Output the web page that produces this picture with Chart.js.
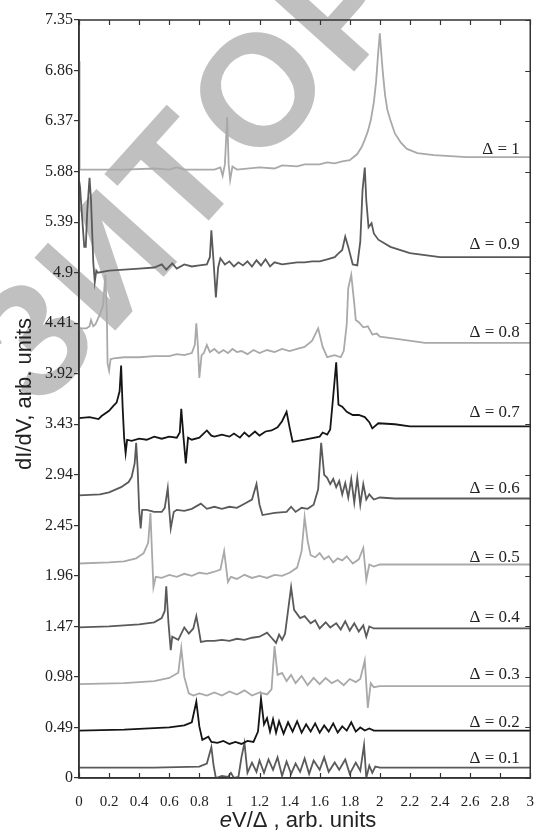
<!DOCTYPE html>
<html>
<head>
<meta charset="utf-8">
<script src="https://cdn.jsdelivr.net/npm/chart.js@4.4.1/dist/chart.umd.min.js"></script>
<style>
  body { margin: 0; background: #fff; }
  canvas { display: block; }
</style>
</head>
<body>
<canvas id="didvChart" width="541" height="835"></canvas>
<script>
// tick values and labels
const xTicks = [0, 0.2, 0.4, 0.6, 0.8, 1, 1.2, 1.4, 1.6, 1.8, 2, 2.2, 2.4, 2.6, 2.8, 3];
const xTickLabels = ["0", "0.2", "0.4", "0.6", "0.8", "1", "1.2", "1.4", "1.6", "1.8", "2", "2.2", "2.4", "2.6", "2.8", "3"];
const yTicks = [0, 0.49, 0.98, 1.47, 1.96, 2.45, 2.94, 3.43, 3.92, 4.41, 4.9, 5.39, 5.88, 6.37, 6.86, 7.35];
const yTickLabels = ["0", "0.49", "0.98", "1.47", "1.96", "2.45", "2.94", "3.43", "3.92", "4.41", "4.9", "5.39", "5.88", "6.37", "6.86", "7.35"];

// curve labels (top to bottom) and where they sit
const deltaLabels = ["Δ = 1", "Δ = 0.9", "Δ = 0.8", "Δ = 0.7", "Δ = 0.6", "Δ = 0.5", "Δ = 0.4", "Δ = 0.3", "Δ = 0.2", "Δ = 0.1"];
const labelY = [6.09, 5.17, 4.32, 3.54, 2.81, 2.14, 1.56, 1.00, 0.54, 0.19];

// curves, [eV/Δ, dI/dV]
const delta10 = [[0,6.95],[0.004,5.9],[0.1,5.9],[0.3,5.9],[0.5,5.91],[0.6,5.9],[0.65,5.92],[0.7,5.9],[0.9,5.9],[0.94,5.92],[0.955,5.84],[0.97,5.95],[0.985,6.41],[0.995,5.95],[1.005,5.8],[1.02,5.93],[1.05,5.9],[1.2,5.92],[1.3,5.91],[1.35,5.94],[1.45,5.93],[1.5,5.95],[1.6,5.95],[1.65,5.97],[1.7,5.96],[1.75,5.98],[1.8,5.99],[1.85,6.05],[1.88,6.12],[1.9,6.19],[1.92,6.27],[1.94,6.38],[1.96,6.55],[1.975,6.75],[1.99,7.05],[2.0,7.22],[2.01,7.02],[2.02,6.84],[2.035,6.62],[2.05,6.48],[2.07,6.38],[2.1,6.25],[2.14,6.16],[2.18,6.1],[2.25,6.06],[2.36,6.04],[2.58,6.02],[3,6.02]];
const delta09 = [[0,5.8],[0.007,5.73],[0.02,5.45],[0.035,5.15],[0.045,5.15],[0.055,5.5],[0.07,5.82],[0.08,5.6],[0.095,5.0],[0.105,4.81],[0.115,4.92],[0.125,4.9],[0.2,4.92],[0.3,4.93],[0.4,4.94],[0.5,4.95],[0.55,4.98],[0.58,4.93],[0.62,4.99],[0.65,4.94],[0.7,4.98],[0.75,4.96],[0.8,4.97],[0.85,4.98],[0.87,5.05],[0.88,5.31],[0.895,5.0],[0.91,4.66],[0.925,4.95],[0.94,5.04],[0.97,4.98],[1.0,5.01],[1.03,4.96],[1.06,5.0],[1.09,4.97],[1.12,5.01],[1.15,4.96],[1.18,5.02],[1.21,4.97],[1.24,5.03],[1.27,4.96],[1.3,5.0],[1.35,4.98],[1.4,4.99],[1.45,5.0],[1.5,5.0],[1.55,5.01],[1.6,5.01],[1.65,5.03],[1.7,5.05],[1.72,5.08],[1.75,5.12],[1.77,5.25],[1.79,5.15],[1.82,4.98],[1.85,4.97],[1.87,5.2],[1.885,5.7],[1.9,5.92],[1.91,5.6],[1.925,5.34],[1.945,5.38],[1.96,5.28],[1.99,5.22],[2.07,5.15],[2.2,5.09],[2.4,5.05],[3,5.05]];
const delta08 = [[0,4.36],[0.05,4.36],[0.07,4.38],[0.08,4.44],[0.095,4.38],[0.11,4.4],[0.14,4.5],[0.16,4.58],[0.175,4.88],[0.185,4.5],[0.19,4.02],[0.2,3.95],[0.21,4.06],[0.23,4.07],[0.3,4.08],[0.4,4.08],[0.5,4.09],[0.6,4.09],[0.65,4.11],[0.7,4.1],[0.75,4.12],[0.77,4.2],[0.78,4.41],[0.79,4.2],[0.8,3.88],[0.815,4.1],[0.83,4.12],[0.85,4.2],[0.87,4.13],[0.9,4.16],[0.93,4.12],[0.96,4.15],[0.99,4.12],[1.02,4.16],[1.05,4.13],[1.08,4.14],[1.12,4.11],[1.16,4.15],[1.2,4.12],[1.25,4.15],[1.3,4.13],[1.35,4.16],[1.4,4.14],[1.45,4.16],[1.5,4.18],[1.55,4.24],[1.59,4.36],[1.62,4.18],[1.65,4.08],[1.7,4.1],[1.74,4.08],[1.76,4.14],[1.78,4.4],[1.79,4.75],[1.81,4.88],[1.83,4.6],[1.84,4.44],[1.86,4.42],[1.89,4.37],[1.92,4.38],[1.95,4.3],[1.98,4.31],[2.0,4.28],[2.1,4.26],[2.3,4.22],[3,4.22]];
const delta07 = [[0,3.49],[0.07,3.5],[0.13,3.48],[0.15,3.51],[0.2,3.56],[0.23,3.61],[0.25,3.64],[0.27,3.75],[0.28,4.0],[0.29,3.6],[0.3,3.3],[0.31,3.15],[0.32,3.28],[0.35,3.27],[0.4,3.29],[0.45,3.28],[0.5,3.31],[0.55,3.29],[0.6,3.31],[0.65,3.3],[0.67,3.35],[0.68,3.58],[0.695,3.3],[0.71,3.05],[0.725,3.3],[0.75,3.28],[0.8,3.3],[0.85,3.37],[0.88,3.32],[0.9,3.31],[0.95,3.33],[1.0,3.31],[1.03,3.34],[1.07,3.3],[1.1,3.35],[1.13,3.31],[1.17,3.36],[1.2,3.32],[1.24,3.36],[1.28,3.37],[1.32,3.4],[1.35,3.46],[1.38,3.55],[1.4,3.4],[1.42,3.26],[1.5,3.28],[1.6,3.31],[1.62,3.35],[1.65,3.33],[1.67,3.38],[1.69,3.7],[1.71,4.03],[1.725,3.62],[1.75,3.6],[1.78,3.55],[1.82,3.52],[1.86,3.52],[1.9,3.5],[1.93,3.45],[1.95,3.39],[1.99,3.44],[2.1,3.43],[2.2,3.41],[3,3.41]];
const delta06 = [[0,2.74],[0.14,2.75],[0.2,2.77],[0.28,2.82],[0.33,2.87],[0.35,2.92],[0.37,3.05],[0.38,3.25],[0.39,3.0],[0.4,2.6],[0.41,2.42],[0.42,2.6],[0.45,2.6],[0.5,2.58],[0.55,2.58],[0.57,2.62],[0.59,2.81],[0.6,2.6],[0.61,2.42],[0.63,2.58],[0.65,2.6],[0.7,2.59],[0.75,2.61],[0.81,2.66],[0.85,2.61],[0.9,2.63],[0.95,2.61],[1.0,2.63],[1.05,2.62],[1.1,2.66],[1.15,2.7],[1.18,2.85],[1.2,2.65],[1.22,2.55],[1.3,2.57],[1.38,2.58],[1.41,2.63],[1.44,2.58],[1.48,2.62],[1.52,2.61],[1.56,2.65],[1.59,2.8],[1.61,3.25],[1.63,2.94],[1.65,2.91],[1.67,2.85],[1.69,2.9],[1.71,2.82],[1.73,2.88],[1.75,2.75],[1.77,2.86],[1.79,2.72],[1.81,2.9],[1.83,2.67],[1.85,2.91],[1.87,2.65],[1.89,2.85],[1.91,2.7],[1.93,2.75],[1.96,2.7],[2.0,2.72],[2.1,2.71],[3,2.71]];
const delta05 = [[0,2.08],[0.2,2.09],[0.3,2.1],[0.38,2.13],[0.43,2.18],[0.46,2.28],[0.475,2.57],[0.485,2.2],[0.495,1.85],[0.51,1.95],[0.55,1.94],[0.6,1.97],[0.65,1.95],[0.7,1.98],[0.75,1.96],[0.8,1.99],[0.85,1.98],[0.9,2.0],[0.94,2.02],[0.965,2.2],[0.98,2.02],[0.99,1.9],[1.01,1.95],[1.05,1.93],[1.1,1.97],[1.15,1.94],[1.2,1.96],[1.25,1.94],[1.3,1.97],[1.35,1.96],[1.4,1.99],[1.45,2.04],[1.48,2.2],[1.5,2.53],[1.52,2.3],[1.54,2.16],[1.57,2.14],[1.6,2.18],[1.63,2.12],[1.66,2.15],[1.69,2.09],[1.72,2.13],[1.75,2.11],[1.78,2.15],[1.82,2.08],[1.86,2.12],[1.89,2.23],[1.91,1.92],[1.93,2.07],[1.96,2.05],[2.0,2.07],[3,2.07]];
const delta04 = [[0,1.46],[0.2,1.47],[0.4,1.49],[0.5,1.51],[0.55,1.55],[0.57,1.62],[0.58,1.86],[0.595,1.5],[0.61,1.24],[0.62,1.37],[0.66,1.34],[0.7,1.46],[0.73,1.4],[0.76,1.45],[0.78,1.57],[0.795,1.45],[0.81,1.32],[0.85,1.33],[0.9,1.33],[0.95,1.34],[1.0,1.33],[1.05,1.35],[1.1,1.34],[1.15,1.36],[1.2,1.37],[1.25,1.41],[1.28,1.36],[1.31,1.31],[1.33,1.39],[1.35,1.34],[1.37,1.4],[1.41,1.85],[1.43,1.63],[1.47,1.55],[1.5,1.57],[1.54,1.5],[1.57,1.53],[1.6,1.45],[1.64,1.51],[1.67,1.46],[1.71,1.5],[1.74,1.44],[1.77,1.52],[1.8,1.43],[1.83,1.5],[1.86,1.42],[1.89,1.48],[1.91,1.37],[1.93,1.47],[1.96,1.45],[3,1.45]];
const delta03 = [[0,0.91],[0.3,0.92],[0.5,0.94],[0.6,0.97],[0.66,1.02],[0.68,1.26],[0.7,0.98],[0.73,0.82],[0.76,0.8],[0.8,0.82],[0.85,0.8],[0.9,0.83],[0.95,0.8],[1.0,0.84],[1.05,0.81],[1.1,0.85],[1.15,0.8],[1.2,0.83],[1.25,0.81],[1.28,0.86],[1.3,1.28],[1.32,1.0],[1.35,1.02],[1.38,0.94],[1.41,1.0],[1.44,0.92],[1.48,0.99],[1.52,0.9],[1.56,0.97],[1.6,0.91],[1.64,0.97],[1.68,0.92],[1.72,0.95],[1.76,0.9],[1.8,0.96],[1.84,0.93],[1.87,0.96],[1.9,1.14],[1.92,0.68],[1.94,0.92],[1.96,0.88],[2.0,0.89],[3,0.89]];
const delta02 = [[0,0.46],[0.3,0.47],[0.6,0.49],[0.7,0.51],[0.75,0.54],[0.78,0.74],[0.8,0.5],[0.82,0.37],[0.86,0.4],[0.88,0.35],[0.92,0.34],[0.96,0.36],[1.0,0.33],[1.04,0.35],[1.08,0.33],[1.12,0.36],[1.16,0.35],[1.19,0.45],[1.21,0.77],[1.23,0.52],[1.25,0.58],[1.27,0.45],[1.29,0.57],[1.31,0.44],[1.33,0.55],[1.36,0.43],[1.39,0.54],[1.42,0.45],[1.45,0.55],[1.48,0.44],[1.51,0.52],[1.54,0.45],[1.57,0.53],[1.6,0.44],[1.63,0.51],[1.66,0.45],[1.69,0.53],[1.72,0.44],[1.75,0.5],[1.78,0.46],[1.81,0.54],[1.84,0.45],[1.87,0.49],[1.9,0.46],[1.93,0.48],[1.96,0.46],[2.0,0.46],[3,0.46]];
const delta01 = [[0,0.1],[0.5,0.1],[0.8,0.11],[0.85,0.14],[0.88,0.3],[0.895,0.12],[0.91,0.0],[0.95,0.02],[0.99,0.01],[1.01,0.05],[1.03,0.0],[1.06,0.01],[1.08,0.2],[1.1,0.34],[1.12,0.05],[1.15,0.15],[1.18,0.06],[1.2,0.17],[1.23,0.05],[1.26,0.18],[1.29,0.08],[1.32,0.2],[1.35,0.02],[1.38,0.16],[1.41,0.04],[1.44,0.14],[1.47,0.06],[1.5,0.19],[1.53,0.04],[1.56,0.17],[1.6,0.08],[1.63,0.2],[1.66,0.06],[1.7,0.15],[1.73,0.08],[1.77,0.18],[1.8,0.04],[1.84,0.15],[1.87,0.07],[1.895,0.32],[1.91,0.0],[1.93,0.12],[1.95,0.05],[1.97,0.11],[2.0,0.1],[3,0.1]];

const curves = [delta10, delta09, delta08, delta07, delta06, delta05, delta04, delta03, delta02, delta01];
const LIGHT = "#a9a9a9", DARK = "#5a5a5a", BLACK = "#151515";
const curveColors = [LIGHT, DARK, LIGHT, BLACK, DARK, LIGHT, DARK, LIGHT, BLACK, DARK];

const serif = "'Liberation Serif', 'Times New Roman', serif";
const sans = "'Liberation Sans', Arial, sans-serif";

// grey watermark behind the plot, one letter at a time
const watermark = {
  id: "watermark",
  beforeDraw(chart) {
    const ctx = chart.ctx;
    const size = 158;
    const letters = ["З", "И", "Т", "О", "Р"];
    const spots = [[30, 338], [104, 258], [174, 174], [256, 88], [340, 2]];
    ctx.save();
    ctx.font = "bold " + size + "px " + sans;
    ctx.fillStyle = "rgb(192,192,192)";
    ctx.textAlign = "center";
    ctx.textBaseline = "alphabetic";
    letters.forEach((ch, i) => {
      ctx.save();
      ctx.translate(spots[i][0], spots[i][1]);
      ctx.rotate(-48 * Math.PI / 180);
      ctx.fillText(ch, 0, size * 0.36);
      ctx.restore();
    });
    ctx.restore();
  }
};

// box around the plot with inward ticks on top, bottom and right
const frame = {
  id: "frame",
  afterDatasetsDraw(chart) {
    const { ctx, chartArea: a, scales: { x, y } } = chart;
    ctx.save();
    ctx.strokeStyle = "#333";
    ctx.lineWidth = 1.5;
    ctx.strokeRect(a.left, a.top, a.right - a.left, a.bottom - a.top);
    ctx.lineWidth = 1.2;
    ctx.beginPath();
    xTicks.forEach((v) => {
      const px = Math.round(x.getPixelForValue(v)) + 0.5;
      ctx.moveTo(px, a.top); ctx.lineTo(px, a.top + 5);
      ctx.moveTo(px, a.bottom); ctx.lineTo(px, a.bottom - 5);
    });
    yTicks.forEach((v) => {
      const py = Math.round(y.getPixelForValue(v)) + 0.5;
      ctx.moveTo(a.right, py); ctx.lineTo(a.right - 5, py);
    });
    ctx.stroke();

    // curve names on the right
    ctx.font = "17px " + serif;
    ctx.fillStyle = "#222";
    ctx.textAlign = "right";
    ctx.textBaseline = "middle";
    deltaLabels.forEach((t, i) => {
      ctx.fillText(t, x.getPixelForValue(2.93), y.getPixelForValue(labelY[i]));
    });
    ctx.restore();
  }
};

// axis titles, "e" in italic
const axisTitles = {
  id: "axisTitles",
  afterDraw(chart) {
    const ctx = chart.ctx;
    ctx.save();
    ctx.fillStyle = "#222";
    ctx.textBaseline = "middle";
    ctx.font = "22px " + sans;
    ctx.save();
    ctx.translate(25, 394);
    ctx.rotate(-Math.PI / 2);
    ctx.textAlign = "center";
    ctx.fillText("dI/dV, arb. units", 0, 0);
    ctx.restore();

    const rest = "V/Δ , arb. units";
    ctx.font = "italic 22px " + sans;
    const w1 = ctx.measureText("e").width;
    ctx.font = "22px " + sans;
    const w2 = ctx.measureText(rest).width;
    let start = 298 - (w1 + w2) / 2;
    ctx.textAlign = "left";
    ctx.font = "italic 22px " + sans;
    ctx.fillText("e", start, 821);
    ctx.font = "22px " + sans;
    ctx.fillText(rest, start + w1, 821);
    ctx.restore();
  }
};

const datasets = curves.map((c, i) => ({
  label: deltaLabels[i],
  data: c.map(([x, y]) => ({ x, y })),
  borderColor: curveColors[i],
  borderWidth: 1.8,
  pointRadius: 0,
  tension: 0,
  fill: false,
}));

const ctx = document.getElementById("didvChart").getContext("2d");
new Chart(ctx, {
  type: "line",
  data: { datasets },
  options: {
    responsive: false,
    animation: false,
    devicePixelRatio: 1,
    layout: { padding: { top: 20, right: 8, left: 0, bottom: 0 } },
    plugins: { legend: { display: false }, tooltip: { enabled: false } },
    scales: {
      x: {
        type: "linear",
        min: 0,
        max: 3,
        afterBuildTicks: (s) => { s.ticks = xTicks.map((v) => ({ value: v })); },
        afterFit: (s) => { s.height = 57; },
        ticks: {
          autoSkip: false,
          maxRotation: 0,
          padding: 7,
          color: "#222",
          font: { family: serif, size: 15 },
          callback: (v, i) => xTickLabels[i],
        },
        grid: { display: false },
        border: { display: true, color: "#333", width: 1.5 },
      },
      y: {
        type: "linear",
        min: 0,
        max: 7.35,
        afterBuildTicks: (s) => { s.ticks = yTicks.map((v) => ({ value: v })); },
        afterFit: (s) => { s.width = 79; },
        ticks: {
          autoSkip: false,
          padding: 1,
          color: "#222",
          font: { family: serif, size: 16 },
          callback: (v, i) => yTickLabels[i],
        },
        grid: { display: true, drawOnChartArea: false, drawTicks: true, tickLength: 5, color: "#333", lineWidth: 1.2 },
        border: { display: true, color: "#333", width: 1.5 },
      },
    },
  },
  plugins: [watermark, frame, axisTitles],
});
</script>
</body>
</html>
